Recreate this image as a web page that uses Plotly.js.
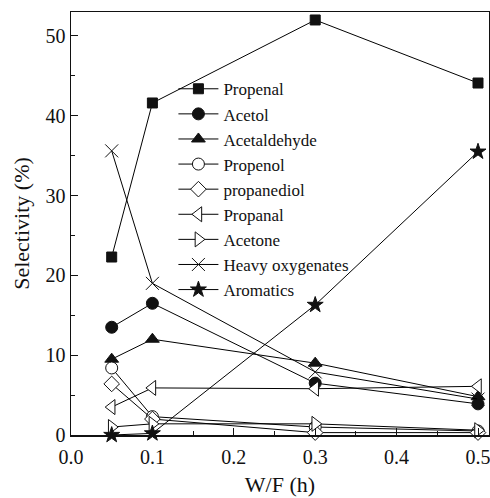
<!DOCTYPE html>
<html>
<head>
<meta charset="utf-8">
<script src="https://cdn.plot.ly/plotly-3.0.1.min.js"></script>
<style>html,body{margin:0;padding:0;background:#fff;}#chart{width:490px;height:498px;}</style>
</head>
<body>
<div id="chart"></div>
<script>
const wf = [0.05, 0.1, 0.3, 0.5];
const seriesNames = ["Propenal","Acetol","Acetaldehyde","Propenol","propanediol","Propanal","Acetone","Heavy oxygenates","Aromatics"];
const propenal = [22.3, 41.6, 52.0, 44.1];
const acetol = [13.5, 16.5, 6.5, 3.9];
const acetaldehyde = [9.5, 12.0, 9.0, 4.8];
const propenol = [8.4, 2.3, 1.0, 0.5];
const propanediol = [6.4, 2.0, 0.3, 0.3];
const propanal = [3.5, 5.9, 5.8, 6.1];
const acetone = [1.0, 1.4, 1.4, 0.6];
const heavyOxygenates = [35.6, 19.0, 7.9, 4.5];
const aromatics = [0.0, 0.2, 16.3, 35.5];
const xTicks = [0.0, 0.1, 0.2, 0.3, 0.4, 0.5];
const xTickLabels = ["0.0","0.1","0.2","0.3","0.4","0.5"];
const yTicks = [0, 10, 20, 30, 40, 50];

const values = [propenal, acetol, acetaldehyde, propenol, propanediol, propanal, acetone, heavyOxygenates, aromatics];
const symbols = ["square","circle","triangle-up","circle","diamond","triangle-left","triangle-right","x-thin","star"];
const fills = ["#111","#111","#111","#fff","#fff","#fff","#fff","#111","#111"];
const sizes = [10, 12, 12, 12, 12, 13, 13, 13, 12];

const traces = values.map((v, i) => ({
  x: wf, y: v, name: seriesNames[i], type: 'scatter', mode: 'lines+markers',
  line: {color: '#000', width: 1},
  marker: {symbol: symbols[i], size: sizes[i], color: fills[i],
           line: {color: '#111', width: 1}},
  cliponaxis: false
}));

const layout = {
  width: 490, height: 498,
  margin: {l: 71, r: 1, t: 12, b: 63},
  paper_bgcolor: '#fff', plot_bgcolor: '#fff',
  font: {family: '"Liberation Serif", "Times New Roman", serif', color: '#111', size: 20},
  showlegend: true,
  legend: {x: 0.245, y: 0.86, xanchor: 'left', yanchor: 'top', bgcolor: 'rgba(0,0,0,0)',
           font: {size: 17}, tracegroupgap: 0, itemwidth: 40},
  xaxis: {range: [0, 0.5135], tickvals: xTicks, ticktext: xTickLabels, ticklabeloverflow: 'allow',
          ticklabelstandoff: 3,
          ticks: 'inside', ticklen: 7, tickcolor: '#111', tickwidth: 1,
          minor: {dtick: 0.05, tick0: 0, ticks: 'inside', ticklen: 4, tickcolor: '#111'},
          showline: true, linecolor: '#111', linewidth: 1.5, mirror: true, showgrid: false, zeroline: false,
          title: {text: 'W/F (h)', font: {size: 22}, standoff: 10}},
  yaxis: {range: [0, 53], tickvals: yTicks,
          ticks: 'inside', ticklen: 7, tickcolor: '#111', tickwidth: 1,
          minor: {dtick: 5, tick0: 0, ticks: 'inside', ticklen: 4, tickcolor: '#111'},
          showline: true, linecolor: '#111', linewidth: 1.5, mirror: true, showgrid: false, zeroline: false,
          title: {text: 'Selectivity (%)', font: {size: 22}, standoff: 10}}
};
Plotly.newPlot('chart', traces, layout, {displayModeBar: false, staticPlot: true});
</script>
</body>
</html>
